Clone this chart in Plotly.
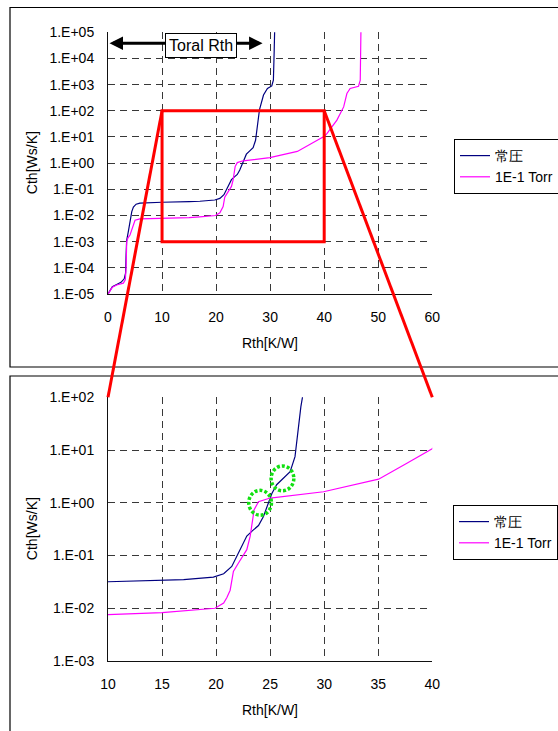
import math
import plotly.graph_objects as go

# ---------------- data ----------------
series_names = ["常圧", "1E-1 Torr"]

rth_atm = [0.0, 0.4, 0.8, 1.6, 2.4, 3.0, 3.25, 3.35, 3.45, 3.76, 4.07, 4.4, 4.7, 5.2, 5.9,
           8.0, 10.0, 15.0, 17.0, 19.75, 20.7, 21.45, 21.9, 22.38, 22.84, 23.4, 23.92, 24.38,
           24.75, 25.16, 25.6, 26.23, 26.85, 27.3, 27.47, 27.62, 27.84, 28.03, 28.77, 29.5,
           30.3, 30.6, 30.75, 30.85]
cth_atm = [1.0e-5, 1.41e-5, 1.9e-5, 2.3e-5, 2.8e-5, 3.8e-5, 6.3e-5, 3.2e-4, 1.1e-3, 2.4e-3,
           5.8e-3, 1.4e-2, 2.1e-2, 2.7e-2, 2.95e-2, 3.1e-2, 3.2e-2, 3.4e-2, 3.5e-2, 3.9e-2,
           4.5e-2, 6.2e-2, 9.5e-2, 0.148, 0.234, 0.30, 0.37, 0.55, 0.85, 1.5, 2.2, 2.95, 3.9,
           7.5, 15.5, 32.0, 66.0, 112.0, 400.0, 710.0, 890.0, 1480.0, 2.0e4, 1.6e5]

rth_vac = [0.0, 0.4, 0.8, 1.6, 2.4, 2.84, 3.2, 3.35, 3.46, 3.7, 4.07, 4.57, 5.0, 5.9, 10.0,
           15.0, 17.0, 19.9, 20.7, 21.0, 21.3, 21.6, 22.07, 22.84, 23.15, 23.3, 23.52, 23.92,
           25.0, 29.94, 35.03, 37.65, 40.03, 40.5, 42.35, 43.6, 44.2, 44.8, 46.35, 46.67, 46.8]
cth_vac = [1.0e-5, 1.3e-5, 1.8e-5, 2.2e-5, 2.4e-5, 2.6e-5, 3.5e-5, 1.0e-4, 1.0e-3, 1.4e-3,
           1.8e-3, 3.7e-3, 6.6e-3, 7.4e-3, 7.6e-3, 8.3e-3, 8.9e-3, 1.0e-2, 1.26e-2, 1.6e-2,
           2.2e-2, 5.0e-2, 7.2e-2, 0.129, 0.23, 0.41, 0.74, 1.05, 1.23, 1.62, 2.8, 5.6, 10.7,
           13.5, 44.0, 141.0, 457.0, 710.0, 870.0, 1480.0, 1.26e5]

top_x_ticks = [0, 10, 20, 30, 40, 50, 60]
top_y_vals = [1e-5, 1e-4, 1e-3, 1e-2, 1e-1, 1e0, 1e1, 1e2, 1e3, 1e4, 1e5]
top_y_text = ["1.E-05", "1.E-04", "1.E-03", "1.E-02", "1.E-01", "1.E+00",
              "1.E+01", "1.E+02", "1.E+03", "1.E+04", "1.E+05"]
bot_x_ticks = [10, 15, 20, 25, 30, 35, 40]
bot_y_vals = [1e-3, 1e-2, 1e-1, 1e0, 1e1, 1e2]
bot_y_text = ["1.E-03", "1.E-02", "1.E-01", "1.E+00", "1.E+01", "1.E+02"]

zoom_x = [10, 40]            # Rth window shown in the lower chart
zoom_y = [1e-3, 1e2]         # Cth window shown in the lower chart
total_rth_span = [0, 28.6]   # double arrow "Toral Rth"
total_rth_level = 3.8e4
total_rth_label = "Toral Rth"
total_rth_label_pos = [17.2, 3.1e4]
mark_x = [24.07, 26.14]      # green dotted circles (lower chart)
mark_y = [1.0, 2.9]
x_title = "Rth[K/W]"
y_title = "Cth[Ws/K]"

# ---------------- layout geometry (pixels) ----------------
W, H = 558, 731
PX_L, PX_R = 108.0, 432.3
TOP_T, TOP_B = 32.3, 294.0
BOT_T, BOT_B = 397.3, 661.0

def fx(px):
    return px / W

def fy(py):
    return 1 - py / H

xdom = [fx(PX_L), fx(PX_R)]
ydom_top = [fy(TOP_B), fy(TOP_T)]
ydom_bot = [fy(BOT_B), fy(BOT_T)]
top_xr, top_yr = [0, 60], [-5, 5]
bot_xr, bot_yr = [10, 40], [-3, 2]

def paper(x, y, xr, yr, yd):
    px = xdom[0] + (x - xr[0]) / (xr[1] - xr[0]) * (xdom[1] - xdom[0])
    py = yd[0] + (math.log10(y) - yr[0]) / (yr[1] - yr[0]) * (yd[1] - yd[0])
    return px, py

FONT = "Arial, 'Liberation Sans', sans-serif"
NAVY = "#000080"
MAGENTA = "#FF00FF"
RED = "#FF0000"
GREEN = "#11E011"
GRID = "#383838"
FS = 14

fig = go.Figure()
for xs, ys, name, col in [(rth_atm, cth_atm, series_names[0], NAVY),
                          (rth_vac, cth_vac, series_names[1], MAGENTA)]:
    fig.add_trace(go.Scatter(x=xs, y=ys, name=name, mode="lines",
                             line=dict(color=col, width=1.2), xaxis="x", yaxis="y",
                             legend="legend"))
for xs, ys, name, col in [(rth_atm, cth_atm, series_names[0], NAVY),
                          (rth_vac, cth_vac, series_names[1], MAGENTA)]:
    fig.add_trace(go.Scatter(x=xs, y=ys, name=name, mode="lines",
                             line=dict(color=col, width=1.2), xaxis="x2", yaxis="y2",
                             legend="legend2"))

axis_common = dict(showgrid=True, gridcolor=GRID, gridwidth=1, griddash="7px,5px",
                   showline=True, linecolor="#111111", linewidth=1, mirror=False,
                   zeroline=False, ticks="", tickfont=dict(family=FONT, size=FS, color="black"))

fig.update_layout(
    width=W, height=H, margin=dict(l=0, r=0, t=0, b=0, autoexpand=False),
    paper_bgcolor="white", plot_bgcolor="white",
    font=dict(family=FONT, size=FS, color="black"),
    xaxis=dict(domain=xdom, range=top_xr, anchor="y", tickvals=top_x_ticks,
               ticklabelstandoff=10, **axis_common),
    yaxis=dict(domain=ydom_top, type="log", range=top_yr, anchor="x",
               tickvals=top_y_vals, ticktext=top_y_text, ticklabelstandoff=10, **axis_common),
    xaxis2=dict(domain=xdom, range=bot_xr, anchor="y2", tickvals=bot_x_ticks,
                ticklabelstandoff=10, **axis_common),
    yaxis2=dict(domain=ydom_bot, type="log", range=bot_yr, anchor="x2",
                tickvals=bot_y_vals, ticktext=bot_y_text, ticklabelstandoff=10, **axis_common),
    legend=dict(x=fx(454), y=fy(139), xanchor="left", yanchor="top",
                bordercolor="black", borderwidth=1, bgcolor="white",
                font=dict(family=FONT, size=FS), itemwidth=30),
    legend2=dict(x=fx(453), y=fy(505), xanchor="left", yanchor="top",
                 bordercolor="black", borderwidth=1, bgcolor="white",
                 font=dict(family=FONT, size=FS), itemwidth=30),
)

shapes = []
# outer frames of the two chart panels
shapes.append(dict(type="rect", xref="paper", yref="paper", x0=fx(10), x1=fx(W + 20),
                   y0=fy(367), y1=fy(7.5), line=dict(color="black", width=1.2), layer="below"))
shapes.append(dict(type="rect", xref="paper", yref="paper", x0=fx(10), x1=fx(W + 20),
                   y0=fy(H + 20), y1=fy(376), line=dict(color="black", width=1.2), layer="below"))
# red zoom window in the upper chart
shapes.append(dict(type="rect", xref="x", yref="y", x0=zoom_x[0], x1=zoom_x[1],
                   y0=zoom_y[0], y1=zoom_y[1], line=dict(color=RED, width=3), layer="above"))
# connectors to the lower chart corners
for xv in zoom_x:
    p0 = paper(xv, zoom_y[1], top_xr, top_yr, ydom_top)
    p1 = paper(xv, zoom_y[1], bot_xr, bot_yr, ydom_bot)
    shapes.append(dict(type="line", xref="paper", yref="paper", x0=p0[0], y0=p0[1],
                       x1=p1[0], y1=p1[1], line=dict(color=RED, width=3), layer="above"))
# green dotted circles
for cx, cy in zip(mark_x, mark_y):
    shapes.append(dict(type="circle", xref="x2", yref="y2", x0=cx - 1.05, x1=cx + 1.05,
                       y0=cy / 1.72, y1=cy * 1.72,
                       line=dict(color=GREEN, width=3.5, dash="3px,2px"),
                       layer="above"))
fig.update_layout(shapes=shapes)

ann = []
ann.append(dict(x=total_rth_span[1], y=math.log10(total_rth_level), xref="x", yref="y",
                ax=total_rth_span[0], ay=math.log10(total_rth_level), axref="x", ayref="y",
                text="", showarrow=True, arrowhead=2, arrowside="end+start",
                arrowwidth=3, arrowsize=0.9, arrowcolor="black"))
ann.append(dict(x=total_rth_label_pos[0], y=math.log10(total_rth_label_pos[1]), xref="x", yref="y",
                text=total_rth_label, showarrow=False, bgcolor="white", bordercolor="black",
                borderwidth=1, borderpad=3, font=dict(family=FONT, size=16, color="black")))
for yc in [(TOP_T + TOP_B) / 2, (BOT_T + BOT_B) / 2]:
    ann.append(dict(x=fx(32), y=fy(yc), xref="paper", yref="paper", text=y_title,
                    textangle=-90, showarrow=False, xanchor="center", yanchor="middle",
                    font=dict(family=FONT, size=FS)))
for yc in [343, 710]:
    ann.append(dict(x=fx(270), y=fy(yc), xref="paper", yref="paper", text=x_title,
                    showarrow=False, xanchor="center", yanchor="middle",
                    font=dict(family=FONT, size=FS)))
fig.update_layout(annotations=ann)

fig.write_html("out.html")
